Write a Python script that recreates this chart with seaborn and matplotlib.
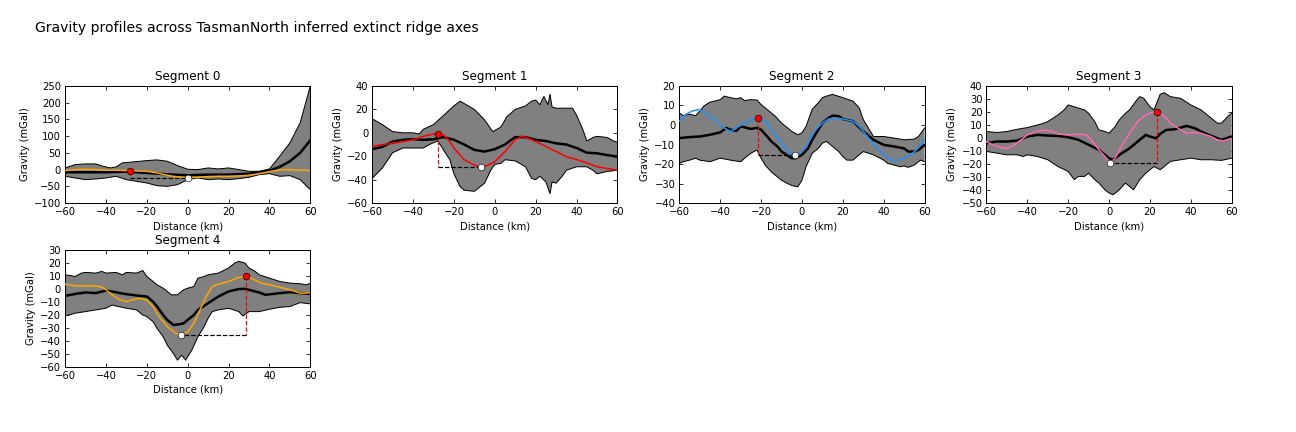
import numpy as np
import matplotlib
matplotlib.use("Agg")
import matplotlib.pyplot as plt
import seaborn as sns

# ---------------- data ----------------
segments = ["Segment 0", "Segment 1", "Segment 2", "Segment 3", "Segment 4"]
profile_colors = ["orange", "red", "dodgerblue", "hotpink", "orange"]
x_ticks = [-60, -40, -20, 0, 20, 40, 60]
y_limits = [(-100, 250), (-60, 40), (-40, 20), (-50, 40), (-60, 30)]
y_steps = [50, 20, 10, 10, 10]

# Segment 0
ux0 = [-60, -55, -50, -45, -42, -38, -35, -32, -25, -20, -15, -10, -5, 0, 5, 10, 15, 20, 25, 30, 35, 40, 45, 50, 55, 60]
uy0 = [5, 15, 17, 17, 11, 5, 8, 20, 24, 27, 29, 25, 12, 1, 0, 5, 2, 5, 0, -5, -5, 2, 40, 80, 140, 250]
lx0 = [-60, -55, -50, -45, -40, -35, -30, -25, -20, -15, -10, -5, 0, 5, 10, 15, 20, 25, 30, 35, 40, 45, 50, 55, 60]
ly0 = [-20, -25, -30, -28, -25, -20, -30, -35, -40, -48, -50, -45, -30, -25, -30, -28, -30, -27, -23, -15, -12, -20, -18, -30, -60]
mx0 = [-60, -50, -40, -30, -20, -10, 0, 10, 20, 30, 35, 40, 45, 50, 55, 60]
my0 = [-8, -8, -8, -6, -10, -14, -17, -15, -15, -12, -8, -3, 8, 25, 50, 88]
px0 = [-60, -55, -50, -45, -40, -35, -28.2, -25, -20, -15, -10, -5, 0.2, 5, 10, 15, 20, 25, 30, 35, 40, 45, 48, 52, 56, 60]
py0 = [-3, 0, 1, 0, -2, -2, -3.5, -4, -5, -10, -17, -22, -24, -23, -21, -20, -20, -19, -17, -12, -6, -1, 0, -1, -2, -3]

# Segment 1
ux1 = [-60, -55, -50, -45, -40, -37, -35, -30, -25, -20, -17, -15, -10, -5, -1, 3, 6, 10, 15, 18, 20, 22, 24, 26, 27, 28, 30, 35, 38, 40, 43, 45, 48, 50, 55, 58, 60]
uy1 = [12, 7, 1, 0, 0, -1, 3, 7, 15, 23, 27, 25, 20, 11, 1, 5, 14, 20, 23, 27, 28, 24, 31, 24, 33, 22, 21, 21, 21, 15, 3, -7, -4, -3, -4, -7, -8]
lx1 = [-60, -55, -50, -45, -40, -35, -32, -28, -26, -25, -22, -20, -17, -15, -10, -5, -2, 0, 3, 5, 10, 15, 18, 20, 22, 25, 27, 28, 30, 33, 35, 40, 45, 48, 50, 55, 60]
ly1 = [-39, -30, -17, -13, -13, -13, -10, -7, -12, -15, -23, -35, -46, -49, -50, -43, -32, -27, -26, -23, -24, -29, -39, -40, -37, -42, -52, -42, -43, -37, -32, -29, -29, -32, -35, -33, -32]
mx1 = [-60, -55, -50, -45, -40, -35, -30, -25, -20, -15, -10, -5, 0, 5, 8, 10, 15, 20, 25, 30, 35, 40, 45, 50, 55, 60]
my1 = [-14, -12, -7.5, -6, -5.4, -6, -5.5, -3.7, -6, -10, -14.6, -16, -14, -10, -6, -3.7, -3.7, -6, -7, -9, -10, -13, -17, -17.5, -19, -20.4]
px1 = [-60, -55, -50, -45, -40, -35, -30, -27.8, -25, -22, -20, -17, -15, -10, -6.8, -5, 0, 5, 10, 13, 15, 20, 25, 30, 35, 40, 45, 50, 55, 60]
py1 = [-11.7, -10, -9, -7.5, -6, -3, -1, -0.8, -1.7, -7.5, -13, -19, -23, -27.5, -29.5, -29, -24.7, -16, -6, -3, -3.7, -7.5, -11.7, -16, -20.4, -22.8, -25.6, -29, -30.5, -32]

# Segment 2
ux2 = [-60, -58, -55, -52, -50, -48, -45, -42, -40, -38, -35, -32, -30, -28, -25, -22, -20, -17, -15, -13, -10, -7, -5, -2, 0, 2, 5, 8, 10, 12, 15, 20, 25, 28, 30, 33, 35, 40, 45, 50, 55, 57, 60]
uy2 = [6.2, 4.8, 5.5, 4.8, 7, 9.7, 11.7, 12.4, 13, 14.8, 14, 13.4, 14, 12.5, 13, 12.8, 10.5, 7.9, 6.2, 4.5, 1, -1.5, -3.3, -5, -4, -0.7, 8, 11.4, 14, 14.8, 15.7, 14, 12.2, 8.8, 2.8, -2.4, -5.9, -5.9, -6.7, -7.6, -7.2, -5.9, -1.5]
lx2 = [-60, -58, -55, -52, -50, -45, -40, -35, -30, -28, -25, -22, -20, -18, -15, -12, -10, -7, -5, -2, 0, 2, 5, 8, 10, 12, 15, 18, 20, 22, 25, 28, 30, 35, 40, 42, 45, 48, 50, 52, 55, 58, 60]
ly2 = [-19.7, -18.8, -18, -17, -18, -18.8, -17, -18, -18.8, -17, -14.5, -12.8, -17, -20.5, -24, -26.6, -28.3, -30, -31, -31.7, -28.3, -21.4, -14.5, -12, -9.3, -8.4, -11, -13.6, -16.2, -18, -18, -15.3, -13.6, -15.3, -18, -19.7, -20.5, -21.4, -21, -21.7, -20.5, -18, -18.8]
mx2 = [-60, -55, -50, -45, -40, -37, -35, -32, -30, -25, -22, -20, -17, -15, -12, -10, -5, -3, 0, 3, 5, 8, 10, 13, 15, 18, 20, 25, 30, 35, 40, 45, 50, 52, 55, 57, 60]
my2 = [-6.7, -6.2, -5.9, -5, -3.8, -1.5, -2.4, -3, -0.7, -2, -1.5, -2.4, -5.9, -8.4, -11, -13.6, -17, -17, -15.3, -12, -7.6, -2.4, 1, 3.6, 4.8, 4.5, 3.1, 1.9, -3.3, -7.6, -10.2, -11, -12, -13.6, -13.6, -12.8, -10.2]
px2 = [-60, -57, -54, -51, -48, -45, -42, -38, -35, -32, -28, -25, -21.3, -20, -17, -14, -10, -7, -3.3, 0, 3, 6, 10, 13, 16, 20, 25, 28, 32, 36, 40, 44, 46, 50, 53, 56, 60]
py2 = [1.9, 5.3, 7, 7.9, 7, 4.5, 1.9, -1.5, -3.3, -1.5, 1, 2.4, 3.6, 3.1, 1, -4.1, -9.3, -13.6, -15.5, -13.6, -9.3, -3.3, 1, 3.1, 3.6, 3.1, 1.9, -0.7, -5.9, -11, -15.3, -18, -18.3, -17, -15.3, -12.8, -7.6]

# Segment 3
ux3 = [-60, -55, -50, -45, -40, -35, -32, -30, -25, -22, -20, -17, -15, -12, -10, -7, -5, -2, 0, 3, 5, 8, 10, 13, 15, 17, 20, 22, 25, 27, 30, 35, 40, 45, 50, 53, 55, 58, 60]
uy3 = [5, 4.2, 5, 6.7, 8, 10, 11.4, 12.6, 17.7, 21.6, 25.4, 24, 23, 21.6, 19, 12.6, 6.2, 5, 3.7, 8.8, 14, 19, 21.6, 28, 31.8, 30.5, 24, 21.6, 33.6, 34.8, 31.8, 30.5, 25.4, 21.6, 15.2, 11.4, 11.4, 16.5, 19]
lx3 = [-60, -55, -50, -45, -42, -40, -35, -30, -25, -20, -17, -15, -12, -10, -7, -5, -2, 0, 2, 5, 8, 10, 12, 15, 18, 20, 22, 25, 28, 30, 35, 40, 45, 50, 55, 60]
ly3 = [-10.3, -11.6, -12.9, -12.9, -14.2, -12.9, -14.2, -16.7, -21.9, -25.7, -32, -29.5, -29.5, -27, -32, -34.6, -39.8, -42.3, -43.6, -39.8, -34.6, -37.2, -39.8, -32, -27, -24.4, -21.9, -24.4, -20.6, -18, -16.7, -15.5, -16.7, -16.7, -17.2, -15.5]
mx3 = [-60, -55, -50, -45, -40, -35, -30, -25, -20, -15, -10, -5, -2, 0, 2, 5, 10, 15, 18, 20, 23, 25, 28, 32, 35, 38, 42, 45, 50, 55, 60]
my3 = [-4, -2.7, -2.7, -2, 1.1, 2.4, 1.9, 1.6, 0.6, -1.4, -5.2, -9.1, -13, -15.5, -16.7, -13, -7.9, -1.4, 2.4, 1.1, -0.2, 3.2, 6.2, 6.7, 8, 9.3, 7.5, 5, 1.6, -1.4, 1.1]
px3 = [-60, -57, -53, -50, -47, -43, -40, -36, -32, -28, -25, -20, -15, -11, -8, -5, -2, 0.4, 3, 6, 10, 14, 18, 21, 23.3, 25, 28, 30, 35, 38, 42, 45, 50, 53, 56, 60]
py3 = [-2.7, -5.2, -7.3, -7.9, -6, -1.4, 2.4, 5, 6.2, 5, 3.2, 2.4, 2.9, 2.4, -2.7, -9.1, -14.2, -19.3, -15.5, -6.5, 3.7, 12.6, 17.7, 19.6, 19.8, 19, 15.2, 11.4, 6.2, 3.7, 4.4, 3.7, 1.1, -1.4, -2.2, -0.2]

# Segment 4
ux4 = [-60, -55, -52, -50, -45, -42, -40, -35, -32, -30, -25, -22, -20, -17, -15, -12, -10, -8, -5, -2, 0, 3, 5, 8, 10, 15, 20, 23, 25, 28, 30, 33, 35, 40, 45, 50, 55, 58, 60]
uy4 = [10.7, 9.4, 12, 12.5, 12, 13.3, 12, 12.5, 10.7, 12.5, 12, 14, 9.4, 5.6, 3, 0.4, -2.1, -4.7, -4.7, -0.8, 0.4, 1.7, 8.1, 9.4, 10.7, 12, 15.9, 19.7, 21, 19.7, 15.9, 13.3, 10.7, 8.1, 5.6, 4.3, 3.8, 3, 4.3]
lx4 = [-60, -55, -50, -45, -40, -37, -35, -30, -25, -22, -20, -17, -15, -12, -10, -7, -5, -3, -1, 0, 2, 5, 8, 10, 12, 15, 20, 25, 27, 30, 35, 40, 45, 50, 55, 60]
ly4 = [-21, -18.8, -17.6, -16.3, -15, -12.5, -13.3, -15, -16.3, -20.2, -21.4, -25.3, -30.5, -36.9, -43.4, -49.8, -54.9, -51.1, -54.9, -52.3, -47.2, -36.9, -29.2, -22.7, -17.6, -16.3, -15, -17.6, -21, -17.6, -17.6, -15.8, -14.3, -13.7, -10.7, -11.7]
mx4 = [-60, -55, -50, -45, -40, -37, -33, -30, -25, -20, -17, -15, -12, -10, -7, -4, -2, 0, 3, 5, 10, 15, 20, 25, 28, 30, 35, 38, 42, 45, 50, 55, 60]
my4 = [-5.5, -4, -2.9, -3.4, -1.4, -2.1, -3.4, -4.2, -5.2, -6, -9.9, -13.7, -20.2, -24, -27.9, -27.3, -26.6, -24, -20.2, -16.3, -11.1, -6, -2.1, -0.3, -0.1, -0.9, -2.9, -4.7, -4, -3.4, -2.7, -3.4, -4]
px4 = [-60, -55, -50, -45, -42, -40, -37, -33, -30, -27, -24, -20, -17, -14, -10, -7, -5, -3.35, 0, 3, 6, 9, 12, 15, 20, 24, 28.4, 32, 36, 40, 45, 50, 55, 58, 60]
py4 = [3.5, 2.2, 2.2, 2.2, 1.2, -0.8, -4.7, -8.6, -9.9, -8.6, -7.4, -8.6, -13.7, -21.4, -29.1, -33, -34.8, -35.8, -33, -26.6, -16.3, -6, 1.7, 3.5, 5.6, 8.1, 9.7, 7.4, 4.3, 3, 1.2, -0.8, -3.4, -3.4, -2.9]

# peak (max) and trough (min) picks
max_x = [-28.2, -27.8, -21.3, 23.3, 28.4]
max_y = [-3.5, -0.8, 3.6, 19.8, 9.7]
min_x = [0.2, -6.8, -3.3, 0.4, -3.35]
min_y = [-24, -29.5, -15.5, -19.3, -35.8]

upper = [(ux0, uy0), (ux1, uy1), (ux2, uy2), (ux3, uy3), (ux4, uy4)]
lower = [(lx0, ly0), (lx1, ly1), (lx2, ly2), (lx3, ly3), (lx4, ly4)]
mean = [(mx0, my0), (mx1, my1), (mx2, my2), (mx3, my3), (mx4, my4)]
prof = [(px0, py0), (px1, py1), (px2, py2), (px3, py3), (px4, py4)]

# ---------------- style ----------------
sns.set_style("white")
plt.rcParams.update({
    "font.family": ["DejaVu Sans"],
    "font.size": 10,
    "axes.titlesize": 12,
    "axes.labelsize": 10,
    "xtick.labelsize": 10,
    "ytick.labelsize": 10,
    "xtick.direction": "in",
    "ytick.direction": "in",
    "xtick.top": True,
    "ytick.right": True,
    "xtick.bottom": True,
    "ytick.left": True,
    "xtick.major.size": 4,
    "ytick.major.size": 4,
    "xtick.major.pad": 4,
    "ytick.major.pad": 4,
    "axes.edgecolor": "black",
    "axes.linewidth": 1.0,
    "xtick.color": "black",
    "ytick.color": "black",
    "axes.labelcolor": "black",
    "text.color": "black",
    "figure.facecolor": "white",
})

fig = plt.figure(figsize=(18, 6), dpi=72)
gs = fig.add_gridspec(2, 4, left=0.0502, right=0.9504, top=0.801, bottom=0.151,
                      wspace=0.252, hspace=0.398)

for i, name in enumerate(segments):
    ax = fig.add_subplot(gs[i // 4, i % 4])
    ux, uy = upper[i]
    lx, ly = lower[i]
    poly_x = np.concatenate([ux, lx[::-1]])
    poly_y = np.concatenate([uy, ly[::-1]])
    ax.fill(poly_x, poly_y, color="gray", lw=0, zorder=1)
    sns.lineplot(x=ux, y=uy, ax=ax, color="black", lw=1.0, sort=False,
                 estimator=None, legend=False, zorder=2)
    sns.lineplot(x=lx, y=ly, ax=ax, color="black", lw=1.0, sort=False,
                 estimator=None, legend=False, zorder=2)
    mx, my = mean[i]
    sns.lineplot(x=mx, y=my, ax=ax, color="black", lw=2.5, sort=False,
                 estimator=None, legend=False, zorder=3)
    px, py = prof[i]
    sns.lineplot(x=px, y=py, ax=ax, color=profile_colors[i], lw=1.5, sort=False,
                 estimator=None, legend=False, zorder=4)
    # connectors
    ax.plot([max_x[i], min_x[i]], [min_y[i], min_y[i]], "k--", lw=1.2, zorder=5)
    ax.plot([max_x[i], max_x[i]], [max_y[i], min_y[i]], "r--", lw=1.2, zorder=5)
    sns.scatterplot(x=[max_x[i]], y=[max_y[i]], ax=ax, color="red", s=45,
                    edgecolor="black", linewidth=0.6, zorder=6, legend=False)
    sns.scatterplot(x=[min_x[i]], y=[min_y[i]], ax=ax, color="white", s=45,
                    edgecolor="black", linewidth=0.6, zorder=6, legend=False)

    lo, hi = y_limits[i]
    ax.set_xlim(-60, 60)
    ax.set_ylim(lo, hi)
    ax.set_xticks(x_ticks)
    ax.set_yticks(np.arange(lo, hi + 0.1, y_steps[i]))
    ax.set_title(name)
    ax.set_xlabel("Distance (km)")
    ax.set_ylabel("Gravity (mGal)")

fig.text(0.027, 0.935, "Gravity profiles across TasmanNorth inferred extinct ridge axes",
         fontsize=14, ha="left", va="center")

fig.savefig("out.png", dpi=72, facecolor="white")
